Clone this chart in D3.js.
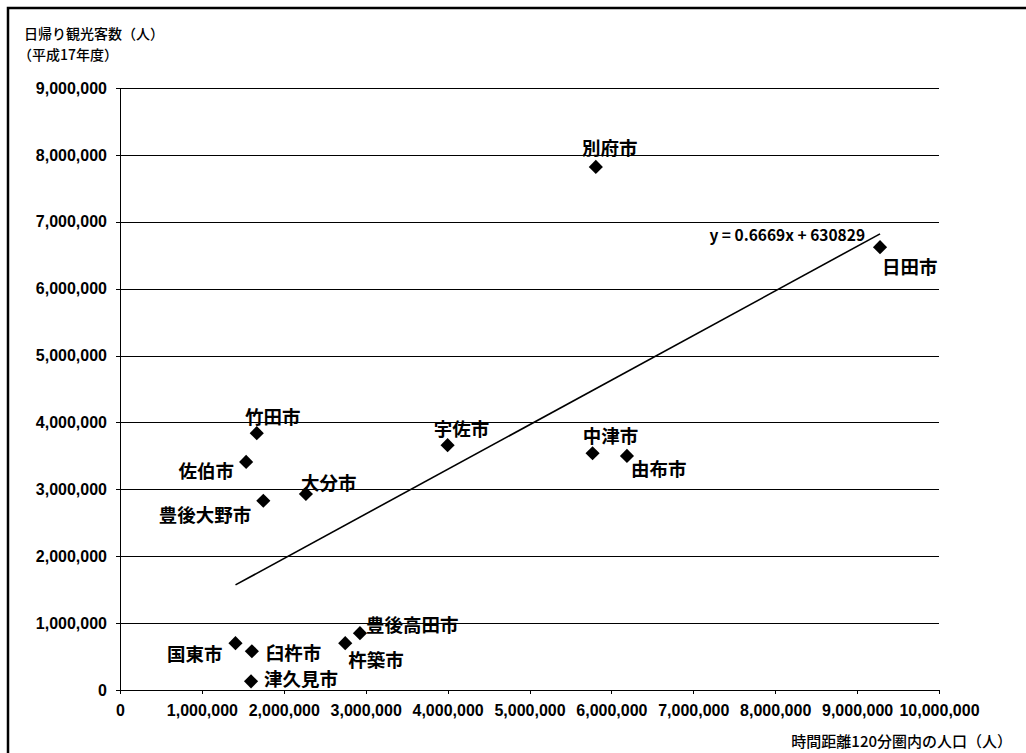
<!DOCTYPE html>
<html>
<head>
<meta charset="utf-8">
<script src="https://cdn.jsdelivr.net/npm/d3@7"></script>
<style>
  body { margin: 0; background: #fff; }
  svg { display: block; font-family: "Noto Sans CJK JP", "Noto Sans", sans-serif; }
  .tick text { font-weight: bold; }
</style>
</head>
<body>
<svg id="chart" width="1026" height="753"></svg>
<script>
const width = 1026;
const height = 753;
const margin = { top: 88, right: 87, bottom: 63, left: 120 };
const chartWidth = width - margin.left - margin.right;
const chartHeight = height - margin.top - margin.bottom;

// data
const cities = ["別府市", "日田市", "竹田市", "佐伯市", "豊後大野市", "大分市", "宇佐市",
  "中津市", "由布市", "国東市", "臼杵市", "津久見市", "杵築市", "豊後高田市"];
const population = [5810000, 9280000, 1670000, 1540000, 1750000, 2270000, 4000000,
  5770000, 6190000, 1410000, 1610000, 1600000, 2750000, 2930000];
const visitors = [7820000, 6620000, 3840000, 3410000, 2830000, 2930000, 3660000,
  3540000, 3500000, 700000, 580000, 130000, 700000, 850000];
const xTicks = [0, 1e6, 2e6, 3e6, 4e6, 5e6, 6e6, 7e6, 8e6, 9e6, 1e7];
const yTicks = [0, 1e6, 2e6, 3e6, 4e6, 5e6, 6e6, 7e6, 8e6, 9e6];
const slope = 0.6669;
const intercept = 630829;

// label placement per city: anchor, dx, dy (px from point)
const labelPlace = [
  ["middle", 14, -12], ["start", 2, 27], ["middle", 16, -9], ["end", -12, 16],
  ["end", -12, 21], ["start", -5, -4], ["middle", 14, -9], ["middle", 18, -10],
  ["start", 4, 20], ["end", -13, 18], ["start", 14, 9], ["start", 13, 5],
  ["start", 3, 24], ["start", 6, -1]
];

const data = cities.map((c, i) => ({ city: c, x: population[i], y: visitors[i], place: labelPlace[i] }));

const svg = d3.select("#chart");

// outer frame (left + top edge)
svg.append("path")
  .attr("d", `M8,${height} V8 H${width}`)
  .attr("fill", "none").attr("stroke", "#000").attr("stroke-width", 2.5);

const g = svg.append("g").attr("transform", `translate(${margin.left},${margin.top})`);

const xScale = d3.scaleLinear().domain([0, 1e7]).range([0, chartWidth]);
const yScale = d3.scaleLinear().domain([0, 9e6]).range([chartHeight, 0]);
const fmt = d3.format(",");

// gridlines + y axis
const yAxis = g.append("g")
  .call(d3.axisLeft(yScale).tickValues(yTicks).tickFormat(fmt).tickSize(4).tickPadding(9));
yAxis.select(".domain").remove();
yAxis.selectAll(".tick line").attr("x1", chartWidth).attr("x2", -4)
  .attr("stroke", "#000").attr("shape-rendering", "crispEdges");
yAxis.selectAll(".tick text").attr("font-size", 16).attr("fill", "#000");

g.append("line")
  .attr("x1", 0).attr("x2", 0).attr("y1", 0).attr("y2", chartHeight)
  .attr("stroke", "#000").attr("shape-rendering", "crispEdges");

// x axis ticks and labels
const xAxis = g.append("g")
  .attr("transform", `translate(0,${chartHeight})`)
  .call(d3.axisBottom(xScale).tickValues(xTicks).tickFormat(fmt).tickSize(4).tickPadding(11));
xAxis.select(".domain").remove();
xAxis.selectAll(".tick line").attr("stroke", "#000").attr("shape-rendering", "crispEdges");
xAxis.selectAll(".tick text").attr("font-size", 16).attr("fill", "#000");

// trend line
const xMin = d3.min(population), xMax = d3.max(population);
g.append("line")
  .attr("x1", xScale(xMin)).attr("y1", yScale(slope * xMin + intercept))
  .attr("x2", xScale(xMax)).attr("y2", yScale(slope * xMax + intercept))
  .attr("stroke", "#000").attr("stroke-width", 1.6);

g.append("text")
  .attr("x", xScale(xMax) - 15)
  .attr("y", yScale(slope * xMax + intercept) + 7)
  .attr("text-anchor", "end")
  .attr("font-size", 15.5).attr("font-weight", "bold")
  .text(`y = ${slope}x + ${intercept}`);

// points
const diamond = d3.symbol(d3.symbolSquare, 100);
g.selectAll("path.pt")
  .data(data).enter()
  .append("path")
  .attr("class", "pt")
  .attr("d", diamond)
  .attr("transform", d => `translate(${xScale(d.x)},${yScale(d.y)}) rotate(45)`)
  .attr("fill", "#000");

g.selectAll("text.lbl")
  .data(data).enter()
  .append("text")
  .attr("class", "lbl")
  .attr("x", d => xScale(d.x) + d.place[1])
  .attr("y", d => yScale(d.y) + d.place[2])
  .attr("text-anchor", d => d.place[0])
  .attr("font-size", 18.5).attr("font-weight", "bold")
  .text(d => d.city);

// axis titles
svg.append("text").attr("x", 24).attr("y", 39).attr("font-size", 14).attr("font-weight", 500)
  .text("日帰り観光客数（人）");
svg.append("text").attr("x", 18).attr("y", 60).attr("font-size", 14).attr("font-weight", 500)
  .text("（平成17年度）");
svg.append("text").attr("x", 1012).attr("y", 747).attr("text-anchor", "end")
  .attr("font-size", 15).attr("font-weight", 500)
  .text("時間距離120分圏内の人口（人）");
</script>
</body>
</html>
